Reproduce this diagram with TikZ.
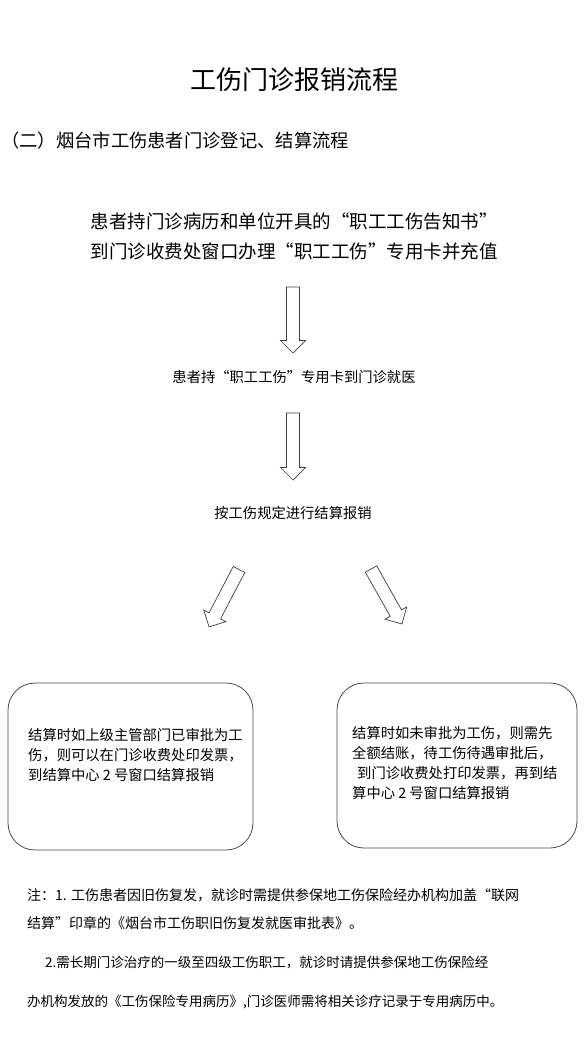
\documentclass[tikz,border=0pt]{standalone}
\usepackage{fontspec}
\newfontfamily\cjk{Noto Sans CJK SC}
\usetikzlibrary{calc,positioning}

% hollow block arrow from #1 to #2
\newcommand{\hollowarrow}[2]{%
  \draw[harrow] let \p1=($(#2)-(#1)$), \n1={atan2(\y1,\x1)},
      \n2={veclen(\x1,\y1)}, \n3={veclen(\x1,\y1)-12.5} in
    [shift={(#1)}, rotate=\n1]
    (0pt,6.5pt) -- (\n3,6.5pt) -- (\n3,12.5pt) -- (\n2,0pt)
    -- (\n3,-12.5pt) -- (\n3,-6.5pt) -- (0pt,-6.5pt) -- cycle;}

\begin{document}
\begin{tikzpicture}[
  x=1pt, y=-1pt,
  ttl/.style={font=\cjk\fontsize{26}{30}\selectfont},
  sub/.style={font=\cjk\fontsize{18.3}{20}\selectfont, anchor=west, inner sep=0pt},
  lead/.style={font=\cjk\fontsize{18.5}{30}\selectfont, align=center},
  stepnode/.style={font=\cjk\fontsize{14.3}{18}\selectfont},
  card/.style={draw=black!70, line width=0.8pt, rounded corners=27pt, minimum width=245pt, minimum height=167pt},
  cardtxt/.style={font=\cjk\fontsize{14.3}{20}\selectfont, align=left, inner sep=0pt, anchor=west},
  note/.style={font=\cjk\fontsize{14}{28}\selectfont, align=left, inner sep=0pt, anchor=west},
  harrow/.style={draw=black!75, line width=0.7pt, fill=white}
]
\useasboundingbox[fill=white] (0,0) rectangle (588,1041);

% Headings
\node[ttl] (title) at (294,80) {工伤门诊报销流程};
\node[sub] (subtitle) at (1,141) {（二）烟台市工伤患者门诊登记、结算流程};

% Steps
\node[lead] (intro) at (294,236) {患者持门诊病历和单位开具的“职工工伤告知书”\\到门诊收费处窗口办理“职工工伤”专用卡并充值};
\node[stepnode] (visit) at (294,377) {患者持“职工工伤”专用卡到门诊就医};
\node[stepnode] (settle) at (293,513) {按工伤规定进行结算报销};

% Two cases
\node[card] (approved) at (130.5,766.5) {};
\node[cardtxt] (approvedtxt) at (28,755) {结算时如上级主管部门已审批为工\\伤，则可以在门诊收费处印发票，\\到结算中心 2 号窗口结算报销};
\node[card, minimum width=240pt, minimum height=165pt] (pending) at (457,765.5) {};
\node[cardtxt] (pendingtxt) at (352,763) {结算时如未审批为工伤，则需先\\全额结账，待工伤待遇审批后，\\\hspace*{5pt}到门诊收费处打印发票，再到结\\算中心 2 号窗口结算报销};

% Notes
\node[note] (note1) at (27,909) {注：1. 工伤患者因旧伤复发，就诊时需提供参保地工伤保险经办机构加盖“联网\\结算”印章的《烟台市工伤职旧伤复发就医审批表》。};
\node[note, font=\cjk\fontsize{13.5}{39}\selectfont] (note2) at (27,982.5) {\hspace*{18pt}2.需长期门诊治疗的一级至四级工伤职工，就诊时请提供参保地工伤保险经\\办机构发放的《工伤保险专用病历》,门诊医师需将相关诊疗记录于专用病历中。};

% Arrows
\coordinate (a1s) at (293,287);
\coordinate (a1e) at (293,353);
\coordinate (a2s) at (293,413);
\coordinate (a2e) at (293,480);
\coordinate (a3s) at (239,569.5);
\coordinate (a3e) at (209,627);
\coordinate (a4s) at (371,569);
\coordinate (a4e) at (402,624);
\hollowarrow{a1s}{a1e}
\hollowarrow{a2s}{a2e}
\hollowarrow{a3s}{a3e}
\hollowarrow{a4s}{a4e}

\end{tikzpicture}
\end{document}
